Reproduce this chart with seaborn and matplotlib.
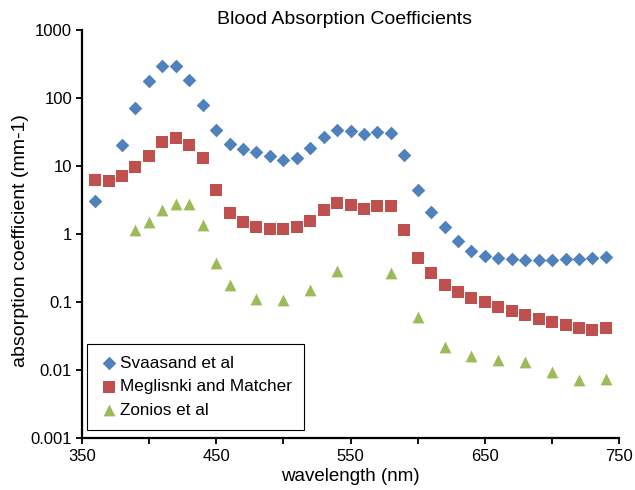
import numpy as np
import pandas as pd
import matplotlib
matplotlib.use("Agg")
import matplotlib.pyplot as plt
import matplotlib.ticker as mticker
import seaborn as sns

# 데이터
wl_svaasand = [360, 380, 390, 400, 410, 420, 430, 440, 450, 460, 470, 480, 490, 500,
               510, 520, 530, 540, 550, 560, 570, 580, 590, 600, 610, 620, 630, 640,
               650, 660, 670, 680, 690, 700, 710, 720, 730, 740]
mu_svaasand = [3.1, 20, 70, 180, 290, 290, 184, 80, 33.5, 21, 18, 15.9, 13.9, 12.2,
               13.1, 18.2, 26.7, 33.5, 33, 29.5, 32, 30, 14.4, 4.5, 2.1, 1.28, 0.79, 0.56,
               0.47, 0.44, 0.425, 0.415, 0.415, 0.415, 0.425, 0.43, 0.44, 0.46]

wl_meglinski = [360, 370, 380, 390, 400, 410, 420, 430, 440, 450, 460, 470, 480, 490,
                500, 510, 520, 530, 540, 550, 560, 570, 580, 590, 600, 610, 620, 630,
                640, 650, 660, 670, 680, 690, 700, 710, 720, 730, 740]
mu_meglinski = [6.2, 6.1, 7.1, 9.7, 14.2, 22.8, 25.5, 20.3, 13, 4.5, 2.06, 1.5, 1.25, 1.18,
                1.18, 1.27, 1.55, 2.28, 2.89, 2.7, 2.36, 2.55, 2.55, 1.15, 0.45, 0.27, 0.18,
                0.139, 0.116, 0.1, 0.085, 0.075, 0.065, 0.057, 0.051, 0.046, 0.042, 0.039,
                0.041]

wl_zonios = [390, 400, 410, 420, 430, 440, 450, 460, 480, 500, 520, 540, 580, 600,
             620, 640, 660, 680, 700, 720, 740]
mu_zonios = [1.15, 1.5, 2.25, 2.8, 2.8, 1.36, 0.38, 0.178, 0.11, 0.108, 0.152, 0.29,
             0.264, 0.06, 0.022, 0.016, 0.014, 0.013, 0.0095, 0.0071, 0.0073]

labels = ["Svaasand et al", "Meglisnki and Matcher", "Zonios et al"]
colors = ["#4F81BD", "#C0504D", "#9BBB59"]
markers = ["D", "s", "^"]
sizes = [48, 72, 72]

sns.set_style("white")
plt.rcParams["font.family"] = ["Liberation Sans", "DejaVu Sans"]
plt.rcParams["text.color"] = "black"

fig = plt.figure(figsize=(6.35, 4.9), dpi=100)
ax = fig.add_axes([0.1287, 0.106, 0.8466, 0.833])

series = [(wl_svaasand, mu_svaasand), (wl_meglinski, mu_meglinski), (wl_zonios, mu_zonios)]
for (wl, mu), lab, col, mk, sz in zip(series, labels, colors, markers, sizes):
    df = pd.DataFrame({"wavelength": wl, "mu": mu})
    sns.scatterplot(data=df, x="wavelength", y="mu", ax=ax, marker=mk, s=sz,
                    color=col, linewidth=0, label=lab)

ax.set_yscale("log")
ax.set_ylim(0.001, 1000)
ax.set_xlim(350, 750)
ax.xaxis.set_major_locator(mticker.FixedLocator([350, 450, 550, 650, 750]))
ax.xaxis.set_minor_locator(mticker.FixedLocator([400, 500, 600, 700]))
ax.yaxis.set_major_locator(mticker.FixedLocator([0.001, 0.01, 0.1, 1, 10, 100, 1000]))
ax.yaxis.set_major_formatter(mticker.FuncFormatter(lambda v, p: f"{v:g}"))
ax.yaxis.set_minor_locator(mticker.NullLocator())

for side in ["top", "right"]:
    ax.spines[side].set_visible(False)
for side in ["left", "bottom"]:
    ax.spines[side].set_color("black")
    ax.spines[side].set_linewidth(1.6)

ax.tick_params(axis="both", which="major", direction="out", length=4, width=1.3,
               color="black", labelsize=12, labelcolor="black",
               left=True, bottom=True)
ax.tick_params(axis="x", which="minor", direction="out", length=4, width=1.3,
               color="black", bottom=True)
ax.tick_params(axis="x", pad=4)
ax.tick_params(axis="y", pad=3)

# 제목은 그림 영역 기준으로 약간 왼쪽에 배치됨
fig.text(0.542, 0.960, "Blood Absorption Coefficients", fontsize=14,
         ha="center", va="center", color="black")
ax.set_xlabel("wavelength (nm)", fontsize=13.5, color="black")
ax.set_ylabel("absorption coefficient (mm-1)", fontsize=14, color="black")
ax.xaxis.set_label_coords(0.5, -0.073)
ax.yaxis.set_label_coords(-0.098, 0.485)

leg = ax.legend(loc="lower left", bbox_to_anchor=(0.01, 0.02), fontsize=12.3,
                frameon=True, fancybox=False, edgecolor="black", framealpha=1,
                handletextpad=0.0, handlelength=1.2, borderpad=0.7,
                labelspacing=0.5, borderaxespad=0.0)
leg.get_frame().set_linewidth(0.8)

fig.savefig("out.png", dpi=100)
